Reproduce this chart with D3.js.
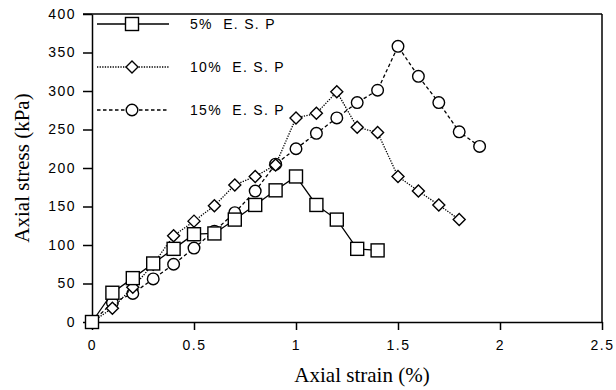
<!DOCTYPE html>
<html>
<head>
<meta charset="utf-8">
<script src="https://cdn.jsdelivr.net/npm/d3@7"></script>
<style>
  body { margin: 0; background: #fff; }
  svg { display: block; }
  .tick text { font-family: "Liberation Sans", Arial, sans-serif; font-size: 14px; letter-spacing: 1.5px; fill: #000; }
  .domain, .tick line { stroke: #000; stroke-width: 1.5; }
  .title { font-family: "Liberation Serif", "Times New Roman", serif; font-size: 21px; fill: #000; }
  .leg { font-family: "Liberation Sans", Arial, sans-serif; font-size: 14px; letter-spacing: 1.3px; white-space: pre; fill: #000; }
</style>
</head>
<body>
<svg></svg>
<script>
// data
let strain5 = [0, 0.1, 0.2, 0.3, 0.4, 0.5, 0.6, 0.7, 0.8, 0.9, 1.0, 1.1, 1.2, 1.3, 1.4]
let stress5 = [0, 38, 57, 76, 95, 114, 115, 133, 152, 171, 189, 152, 133, 95, 93]

let strain10 = [0, 0.1, 0.2, 0.3, 0.4, 0.5, 0.6, 0.7, 0.8, 0.9, 1.0, 1.1, 1.2, 1.3, 1.4, 1.5, 1.6, 1.7, 1.8]
let stress10 = [0, 18, 45, 75, 112, 131, 151, 178, 189, 204, 265, 271, 299, 253, 246, 189, 170, 152, 133]

let strain15 = [0, 0.1, 0.2, 0.3, 0.4, 0.5, 0.6, 0.7, 0.8, 0.9, 1.0, 1.1, 1.2, 1.3, 1.4, 1.5, 1.6, 1.7, 1.8, 1.9]
let stress15 = [0, 25, 37, 56, 75, 96, 118, 142, 170, 205, 225, 245, 265, 285, 301, 358, 319, 285, 247, 228]

let xTicks = [0, 0.5, 1, 1.5, 2, 2.5]
let yTicks = [0, 50, 100, 150, 200, 250, 300, 350, 400]
let legendLabels = ['5%  E. S. P', '10%  E. S. P', '15%  E. S. P']

let width = 616
let height = 390
let padLeft = 92
let padRight = 602
let padTop = 14
let padBottom = 322

let svg = d3.select('svg')
    .attr('width', width)
    .attr('height', height)

let xScale = d3.scaleLinear().domain([0, 2.5]).range([padLeft, padRight])
let yScale = d3.scaleLinear().domain([0, 400]).range([padBottom, padTop])

// frame lines (top and right)
svg.append('line')
    .attr('x1', padLeft - 9).attr('x2', padRight)
    .attr('y1', yScale(400)).attr('y2', yScale(400))
    .attr('stroke', '#000').attr('stroke-width', 1.5)
svg.append('line')
    .attr('x1', xScale(2.5)).attr('x2', xScale(2.5))
    .attr('y1', padTop).attr('y2', padBottom)
    .attr('stroke', '#000').attr('stroke-width', 1.5)

let xAxis = d3.axisBottom(xScale)
    .tickValues(xTicks)
    .tickFormat(d3.format('~g'))
    .tickSize(8)
    .tickSizeOuter(0)
    .tickPadding(10)
svg.append('g')
    .attr('transform', 'translate(0,' + padBottom + ')')
    .call(xAxis)

let yAxis = d3.axisLeft(yScale)
    .tickValues(yTicks)
    .tickSize(9)
    .tickSizeOuter(0)
    .tickPadding(7)
svg.append('g')
    .attr('transform', 'translate(' + padLeft + ',0)')
    .call(yAxis)

svg.append('text')
    .attr('class', 'title')
    .attr('x', 362).attr('y', 382)
    .attr('text-anchor', 'middle')
    .text('Axial strain (%)')

svg.append('text')
    .attr('class', 'title')
    .attr('transform', 'translate(29,168) rotate(-90)')
    .attr('text-anchor', 'middle')
    .text('Axial stress (kPa)')

// marker shapes
let square = (g, s) => g.append('rect')
    .attr('x', -s).attr('y', -s).attr('width', 2 * s).attr('height', 2 * s)
let diamond = (g, s) => g.append('path')
    .attr('d', 'M0,' + (-s) + 'L' + s + ',0L0,' + s + 'L' + (-s) + ',0Z')
let circle = (g, s) => g.append('circle').attr('r', s)

let series = [
    { xs: strain15, ys: stress15, dash: '3.5,2.5', marker: circle, size: 5.8 },
    { xs: strain10, ys: stress10, dash: '1.3,1.3', marker: diamond, size: 6 },
    { xs: strain5, ys: stress5, dash: null, marker: square, size: 6.5 }
]

let line = d3.line()
    .x(d => xScale(d[0]))
    .y(d => yScale(d[1]))

series.forEach(s => {
    let pts = s.xs.map((x, i) => [x, s.ys[i]])
    svg.append('path')
        .datum(pts)
        .attr('d', line)
        .attr('fill', 'none')
        .attr('stroke', '#000')
        .attr('stroke-width', 1.3)
        .attr('stroke-dasharray', s.dash)

    svg.selectAll(null)
        .data(pts)
        .enter()
        .append('g')
        .attr('transform', d => 'translate(' + xScale(d[0]) + ',' + yScale(d[1]) + ')')
        .each(function () {
            s.marker(d3.select(this), s.size)
                .attr('fill', '#fff')
                .attr('stroke', '#000')
                .attr('stroke-width', 1.4)
        })
})

// legend
let legendRows = [24, 67, 110]
let legendSeries = [series[2], series[1], series[0]]
legendSeries.forEach((s, i) => {
    let y = legendRows[i]
    svg.append('line')
        .attr('x1', 97).attr('x2', 169)
        .attr('y1', y).attr('y2', y)
        .attr('stroke', '#000')
        .attr('stroke-width', 1.3)
        .attr('stroke-dasharray', s.dash)
    let g = svg.append('g').attr('transform', 'translate(132,' + y + ')')
    s.marker(g, s.size)
        .attr('fill', '#fff')
        .attr('stroke', '#000')
        .attr('stroke-width', 1.4)
    svg.append('text')
        .attr('class', 'leg')
        .attr('x', 190).attr('y', y + 5)
        .text(legendLabels[i])
})
</script>
</body>
</html>
